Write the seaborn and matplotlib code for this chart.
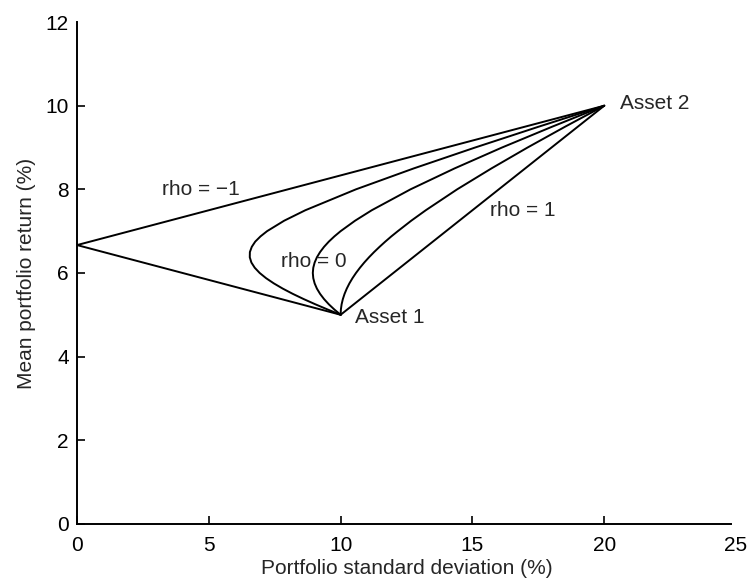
import matplotlib
matplotlib.use('Agg')
import matplotlib.pyplot as plt
import seaborn as sns
import pandas as pd

# === DATA ===
# portfolio mean return (%) as the weight on asset 1 goes from 0 to 1
mean_ret = [10.0, 9.5, 9.0, 8.5, 8.0, 7.5, 7.25, 7.0, 6.875, 6.75, 6.625, 6.5,
            6.375, 6.25, 6.125, 6.0, 5.875, 5.75, 5.625, 5.5, 5.375, 5.25, 5.125, 5.0]
# portfolio standard deviation (%) for each correlation
sd_rho_m05 = [20.0, 17.52, 15.10, 12.77, 10.58, 8.66, 7.858, 7.21, 6.960, 6.76, 6.629, 6.557,
              6.553, 6.614, 6.741, 6.928, 7.172, 7.467, 7.806, 8.185, 8.599, 9.042, 9.510, 10.0]
sd_rho_0 = [20.0, 18.03, 16.12, 14.32, 12.65, 11.18, 10.548, 10.0, 9.763, 9.552, 9.371, 9.220,
            9.100, 9.014, 8.962, 8.944, 8.962, 9.014, 9.100, 9.220, 9.371, 9.552, 9.763, 10.0]
sd_rho_p05 = [20.0, 18.52, 17.09, 15.72, 14.42, 13.23, 12.679, 12.17, 11.924, 11.694, 11.476, 11.269,
              11.076, 10.897, 10.733, 10.583, 10.449, 10.332, 10.232, 10.149, 10.084, 10.037, 10.009, 10.0]
# straight frontiers
sd_rho_m1 = [20.0, 0.0, 10.0]
mean_rho_m1 = [10.0, 6.667, 5.0]
sd_rho_p1 = [10.0, 20.0]
mean_rho_p1 = [5.0, 10.0]

x_ticks = [0, 5, 10, 15, 20, 25]
y_ticks = [0, 2, 4, 6, 8, 10, 12]

sns.set_style('ticks')
plt.rcParams['font.family'] = ['Liberation Sans', 'DejaVu Sans']

fig = plt.figure(figsize=(7.48, 5.82), dpi=100)
# axes box in figure fractions: x 0..25 over px 77..736, y 0..12 over px 524..22
ax = fig.add_axes([0.103, 0.1, 0.881, 0.862])

curves = [
    (sd_rho_m1, mean_rho_m1),
    (sd_rho_m05, mean_ret),
    (sd_rho_0, mean_ret),
    (sd_rho_p05, mean_ret),
    (sd_rho_p1, mean_rho_p1),
]
for sd, mu in curves:
    d = pd.DataFrame({'sd': sd, 'mu': mu})
    sns.lineplot(data=d, x='sd', y='mu', sort=False, estimator=None,
                 color='black', linewidth=1.4, ax=ax)

ax.set_xlim(0, 25)
ax.set_ylim(0, 12)
ax.set_xticks(x_ticks)
ax.set_yticks(y_ticks)
ax.tick_params(direction='in', length=6, width=1.2, labelsize=15, colors='black')
ax.tick_params(axis='x', pad=9)
ax.tick_params(axis='y', pad=6)
for side in ['top', 'right']:
    ax.spines[side].set_visible(False)
for side in ['left', 'bottom']:
    ax.spines[side].set_linewidth(1.4)
    ax.spines[side].set_color('black')
ax.spines['bottom'].set_bounds(0, 24.8)
# no tick marks at the axis ends
ax.xaxis.get_major_ticks()[-1].tick1line.set_visible(False)
ax.yaxis.get_major_ticks()[-1].tick1line.set_visible(False)

ax.set_xlabel('Portfolio standard deviation (%)', fontsize=15, labelpad=3)
ax.set_ylabel('Mean portfolio return (%)', fontsize=15, labelpad=7)

ax.text(4.7, 8.0, 'rho = \u22121', fontsize=15, ha='center', va='center')
ax.text(16.9, 7.5, 'rho = 1', fontsize=15, ha='center', va='center')
ax.text(9.0, 6.27, 'rho = 0', fontsize=15, ha='center', va='center')
ax.text(10.55, 4.93, 'Asset 1', fontsize=15, ha='left', va='center')
ax.text(20.6, 10.05, 'Asset 2', fontsize=15, ha='left', va='center')

fig.savefig('out.png', dpi=100)
